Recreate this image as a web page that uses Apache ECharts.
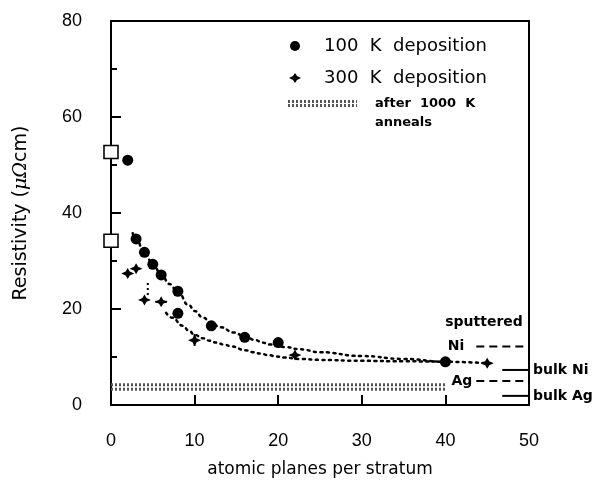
<!DOCTYPE html>
<html><head><meta charset="utf-8">
<script src="https://cdn.jsdelivr.net/npm/echarts@6/dist/echarts.min.js"></script>
<style>html,body{margin:0;padding:0;background:#fff}#c{width:597px;height:489px}</style>
</head><body><div id="c"></div>
<script>
// ---- data ----
const dep100X = [2, 3, 4, 5, 6, 8, 8, 12, 16, 20, 40];
const dep100Y = [51, 34.6, 31.8, 29.3, 27.1, 23.7, 19.1, 16.5, 14.1, 13.0, 9.0];
const dep300X = [2, 3, 4, 6, 10, 22, 45];
const dep300Y = [27.4, 28.4, 21.9, 21.5, 13.5, 10.4, 8.7];
const filmX = [0, 0];
const filmY = [52.7, 34.2];
const fit100X = [2.6, 3, 4, 5, 6, 7, 8, 9.3, 10, 11, 12, 13.1, 14.7, 16, 17.3, 18.1, 19, 20.8, 22.6, 25, 30, 35, 40, 45];
const fit100Y = [35.8, 34.5, 31.8, 29.4, 27.2, 25.2, 23.5, 20.8, 19.6, 18.2, 17.0, 16.2, 15.1, 14.3, 13.5, 13.0, 12.6, 12.1, 11.6, 11.0, 10.2, 9.6, 9.0, 8.7];
const fit300X = [6.6, 7.3, 8.6, 9.3, 10, 11, 11.8, 12.6, 13.5, 14.4, 16.1, 17, 17.9, 18.8, 19.8, 20.7, 22.6, 25, 30, 35, 40];
const fit300Y = [19.2, 18.2, 16.5, 15.5, 14.6, 13.9, 13.4, 13.0, 12.6, 12.2, 11.4, 11.0, 10.7, 10.4, 10.1, 9.9, 9.6, 9.4, 9.2, 9.1, 9.0];
const annealX = [0, 40];
const annealY = [3.3, 4.2];
// error bars
const errX = [4.4, 6, 10];
const errY = [24.2, 21.5, 13.5];
const errXLow = [4.4, 5.3, 9.6];
const errXHigh = [4.4, 6.7, 10.4];
const errYLow = [22.9, 21.5, 12.3];
const errYHigh = [25.6, 21.5, 14.8];
const refNames = ['Ni', 'Ag', 'bulk Ni', 'bulk Ag'];
const refValues = [12.2, 5.0, 7.3, 1.9];
const refStart = [43.7, 43.7, 46.8, 46.8];
const refEnd = [50, 50, 50, 50];
const xTicks = [0, 10, 20, 30, 40, 50];
const yTicks = [0, 20, 40, 60, 80];

const zip = (a, b) => a.map((v, i) => [v, b[i]]);
const chart = echarts.init(document.getElementById('c'), null, {renderer: 'canvas'});
const star = 'path://M0,-10 L3.5,-3.5 L11,0 L3.5,3.5 L0,10 L-3.5,3.5 L-11,0 L-3.5,-3.5 Z';
const sans = 'Liberation Sans';
const wide = 'DejaVu Sans';

const series = [];
annealY.forEach(v => series.push({
  type: 'line', data: annealX.map(x => [x, v]), symbol: 'none', silent: true,
  lineStyle: {color: '#555', width: 3, type: [2, 2]}, z: 1
}));
series.push({type: 'line', data: zip(fit100X, fit100Y), symbol: 'none', smooth: true, smoothMonotone: 'x',
  lineStyle: {color: '#000', width: 2.5, type: [2, 4.5], cap: 'round'}, z: 2});
series.push({type: 'line', data: zip(fit300X, fit300Y), symbol: 'none', smooth: true, smoothMonotone: 'x',
  lineStyle: {color: '#000', width: 2.5, type: [2, 4.5], cap: 'round'}, z: 2});
series.push({type: 'scatter', data: zip(dep100X, dep100Y), symbol: 'circle', symbolSize: 11,
  itemStyle: {color: '#000', opacity: 1}, z: 4});
series.push({type: 'scatter', data: zip(dep300X, dep300Y), symbol: star, symbolSize: [13, 11],
  itemStyle: {color: '#000', opacity: 1}, z: 4});
series.push({type: 'scatter', data: zip(filmX, filmY), symbol: 'rect', symbolSize: [14, 13], clip: false,
  itemStyle: {color: '#fff', borderColor: '#000', borderWidth: 1.5, opacity: 1}, z: 5});
series.push({
  type: 'custom', z: 3, clip: false,
  data: errX.map((x, i) => [x, errY[i], errXLow[i], errXHigh[i], errYLow[i], errYHigh[i]]),
  renderItem: (params, api) => {
    const c = api.coord([api.value(0), api.value(1)]);
    const xl = api.coord([api.value(2), api.value(1)]);
    const xh = api.coord([api.value(3), api.value(1)]);
    const yl = api.coord([api.value(0), api.value(4)]);
    const yh = api.coord([api.value(0), api.value(5)]);
    const st = {stroke: '#000', lineWidth: 2};
    const ch = [];
    if (xh[0] - xl[0] > 1) ch.push({type: 'line', shape: {x1: xl[0], y1: c[1], x2: xh[0], y2: c[1]}, style: st});
    if (yl[1] - yh[1] > 1) ch.push({type: 'line', shape: {x1: c[0], y1: yl[1], x2: c[0], y2: yh[1]},
      style: params.dataIndex === 0 ? {stroke: '#000', lineWidth: 2, lineDash: [2, 3]} : st});
    return {type: 'group', children: ch};
  }
});
refNames.forEach((n, i) => {
  const bulk = n.startsWith('bulk');
  series.push({
    type: 'line', symbol: 'none', silent: true, z: 3,
    data: [[refStart[i], refValues[i]], [refEnd[i], refValues[i]]],
    lineStyle: {color: '#000', width: 2, type: bulk ? 'solid' : [8, 5]}
  });
});
// labels for the reference levels
series.push({
  type: 'scatter', symbolSize: 0, silent: true, clip: false, z: 6,
  itemStyle: {opacity: 1, color: '#000'},
  data: refNames.map((n, i) => {
    const bulk = n.startsWith('bulk');
    return {
      value: [bulk ? refEnd[i] : refStart[i], refValues[i]],
      label: {show: true, formatter: n, position: bulk ? 'right' : 'left',
        distance: bulk ? 4 : (n === 'Ni' ? 12 : 4),
        color: '#000', opacity: 1, fontFamily: wide, fontSize: 14, fontWeight: 'bold'}
    };
  })
});

chart.setOption({
  animation: false,
  backgroundColor: '#fff',
  grid: {left: 111, top: 21, right: 68, bottom: 84, show: true, borderColor: '#000', borderWidth: 2},
  xAxis: {
    type: 'value', min: xTicks[0], max: xTicks[xTicks.length - 1], interval: 10,
    axisLine: {lineStyle: {color: '#000', width: 2}},
    axisTick: {inside: true, length: 10, lineStyle: {color: '#000', width: 2}},
    splitLine: {show: false},
    axisLabel: {color: '#000', fontFamily: sans, fontSize: 18, margin: 27},
    name: 'atomic planes per stratum', nameLocation: 'middle', nameGap: 56,
    nameTextStyle: {color: '#000', fontFamily: wide, fontSize: 17}
  },
  yAxis: {
    type: 'value', min: yTicks[0], max: yTicks[yTicks.length - 1], interval: 20,
    axisLine: {lineStyle: {color: '#000', width: 2}},
    axisTick: {inside: true, length: 10, lineStyle: {color: '#000', width: 2}},
    minorTick: {show: true, splitNumber: 2, length: 6, lineStyle: {color: '#000', width: 2}},
    splitLine: {show: false},
    axisLabel: {color: '#000', fontFamily: sans, fontSize: 18, margin: 29},
    name: 'Resistivity ({mu|μΩ}cm)', nameLocation: 'middle', nameGap: 80,
    nameTextStyle: {color: '#000', fontFamily: wide, fontSize: 19,
      rich: {mu: {fontFamily: 'DejaVu Serif', fontStyle: 'italic', fontSize: 19, color: '#000'}}}
  },
  series: series,
  graphic: [
    {type: 'circle', shape: {cx: 295, cy: 46, r: 5}, style: {fill: '#000'}},
    {type: 'polygon', shape: {points: [[295, 73], [297, 76], [301, 78], [297, 80], [295, 83], [293, 80], [289, 78], [293, 76]]}, style: {fill: '#000'}},
    {type: 'line', shape: {x1: 288, y1: 101.5, x2: 357, y2: 101.5}, style: {stroke: '#555', lineWidth: 3, lineDash: [2, 2]}},
    {type: 'line', shape: {x1: 288, y1: 105.5, x2: 357, y2: 105.5}, style: {stroke: '#555', lineWidth: 3, lineDash: [2, 2]}},
    {type: 'text', x: 324, y: 46, style: {text: '100  K  deposition', fill: '#000', font: '18px "DejaVu Sans"', textVerticalAlign: 'middle'}},
    {type: 'text', x: 324, y: 78, style: {text: '300  K  deposition', fill: '#000', font: '18px "DejaVu Sans"', textVerticalAlign: 'middle'}},
    {type: 'text', x: 375, y: 104, style: {text: 'after  1000  K', fill: '#000', font: 'bold 13px "DejaVu Sans"', textVerticalAlign: 'middle'}},
    {type: 'text', x: 375, y: 123, style: {text: 'anneals', fill: '#000', font: 'bold 13px "DejaVu Sans"', textVerticalAlign: 'middle'}},
    {type: 'text', x: 484, y: 322, style: {text: 'sputtered', fill: '#000', font: 'bold 14px "DejaVu Sans"', textAlign: 'center', textVerticalAlign: 'middle'}}
  ]
});
</script></body></html>
